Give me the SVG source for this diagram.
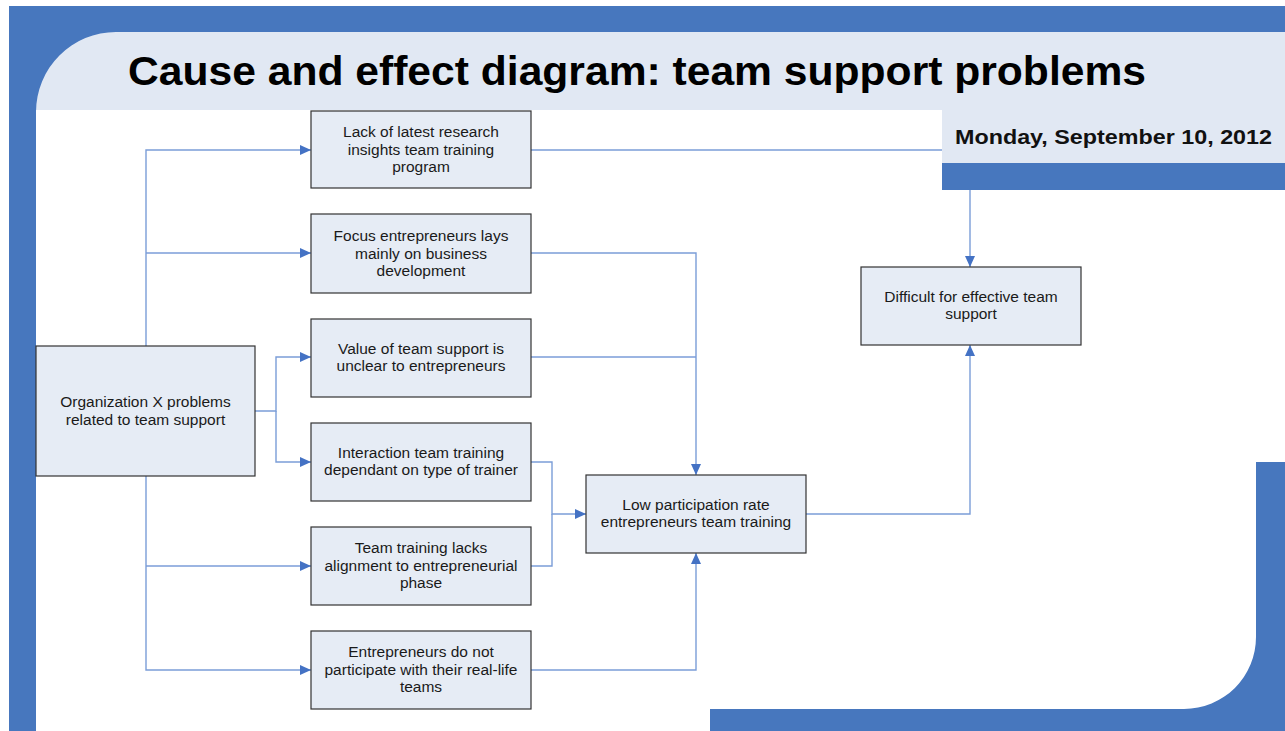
<svg xmlns="http://www.w3.org/2000/svg" width="1285" height="731" viewBox="0 0 1285 731">
  <style>
    .node rect { fill: #E6ECF5; stroke: #333333; stroke-width: 1.2; }
    .node text { font-family: "Liberation Sans", Arial, sans-serif; font-size: 15.5px; fill: #1a1a1a; text-anchor: middle; }
    .conn { fill: none; stroke: #7B9DD8; stroke-width: 1.4; }
    .title { font-family: "Liberation Sans", Arial, sans-serif; font-weight: bold; font-size: 40px; fill: #000; }
    .date { font-family: "Liberation Sans", Arial, sans-serif; font-weight: bold; font-size: 21px; fill: #111; }
  </style>
  <defs>
    <marker id="arr" markerUnits="userSpaceOnUse" markerWidth="12" markerHeight="10" refX="11" refY="5" orient="auto">
      <path d="M0,0 L11,5 L0,10 Z" fill="#4472C4"/>
    </marker>
  </defs>

  <g id="background">
    <rect x="0" y="0" width="1285" height="731" fill="#FFFFFF"/>
    <rect x="9" y="6" width="1276" height="725" fill="#4777BE"/>
    <path d="M36,110 L942,110 L942,190 L1285,190 L1285,462 L1256,462 L1256,637 A72,72 0 0 1 1184,709 L710,709 L710,731 L36,731 Z" fill="#FFFFFF"/>
    <path d="M36,110 L36,112 A80,80 0 0 1 116,32 L1285,32 L1285,110 Z" fill="#E1E8F3"/>
    <text class="title" x="128" y="85" textLength="1018" lengthAdjust="spacingAndGlyphs">Cause and effect diagram: team support problems</text>
  </g>

  <g id="connectors">
    <path class="conn" d="M146,346 L146,150 L311,150" marker-end="url(#arr)"/>
    <path class="conn" d="M146,253 L311,253" marker-end="url(#arr)"/>
    <path class="conn" d="M146,476 L146,670 L311,670" marker-end="url(#arr)"/>
    <path class="conn" d="M146,566 L311,566" marker-end="url(#arr)"/>
    <path class="conn" d="M255,411 L276,411 L276,357 L311,357" marker-end="url(#arr)"/>
    <path class="conn" d="M276,411 L276,462 L311,462" marker-end="url(#arr)"/>
    <path class="conn" d="M531,150 L970,150 L970,267" marker-end="url(#arr)"/>
    <path class="conn" d="M531,253 L696,253 L696,475" marker-end="url(#arr)"/>
    <path class="conn" d="M531,357 L696,357"/>
    <path class="conn" d="M531,462 L552,462 L552,514 L586,514" marker-end="url(#arr)"/>
    <path class="conn" d="M531,566 L552,566 L552,514"/>
    <path class="conn" d="M531,670 L696,670 L696,553" marker-end="url(#arr)"/>
    <path class="conn" d="M806,514 L970,514 L970,345" marker-end="url(#arr)"/>
  </g>

  <g id="date-panel">
    <rect x="942" y="110" width="343" height="53" fill="#E1E8F3"/>
    <rect x="942" y="163" width="343" height="27" fill="#4777BE"/>
    <text class="date" x="955" y="144" textLength="317" lengthAdjust="spacingAndGlyphs">Monday, September 10, 2012</text>
  </g>

  <g id="node-lack" class="node">
    <rect x="311" y="111" width="220" height="77"/>
    <text x="421" y="137">Lack of latest research</text>
    <text x="421" y="154.5">insights team training</text>
    <text x="421" y="172">program</text>
  </g>
  <g id="node-focus" class="node">
    <rect x="311" y="214" width="220" height="79"/>
    <text x="421" y="241">Focus entrepreneurs lays</text>
    <text x="421" y="258.5">mainly on business</text>
    <text x="421" y="276">development</text>
  </g>
  <g id="node-value" class="node">
    <rect x="311" y="319" width="220" height="78"/>
    <text x="421" y="354">Value of team support is</text>
    <text x="421" y="371">unclear to entrepreneurs</text>
  </g>
  <g id="node-interaction" class="node">
    <rect x="311" y="423" width="220" height="78"/>
    <text x="421" y="458">Interaction team training</text>
    <text x="421" y="475">dependant on type of trainer</text>
  </g>
  <g id="node-alignment" class="node">
    <rect x="311" y="527" width="220" height="78"/>
    <text x="421" y="553">Team training lacks</text>
    <text x="421" y="570.5">alignment to entrepreneurial</text>
    <text x="421" y="588">phase</text>
  </g>
  <g id="node-reallife" class="node">
    <rect x="311" y="631" width="220" height="78"/>
    <text x="421" y="657">Entrepreneurs do not</text>
    <text x="421" y="674.5">participate with their real-life</text>
    <text x="421" y="692">teams</text>
  </g>
  <g id="node-org" class="node">
    <rect x="36" y="346" width="219" height="130"/>
    <text x="145.5" y="407">Organization X problems</text>
    <text x="145.5" y="424.5">related to team support</text>
  </g>
  <g id="node-low" class="node">
    <rect x="586" y="475" width="220" height="78"/>
    <text x="696" y="510">Low participation rate</text>
    <text x="696" y="527">entrepreneurs team training</text>
  </g>
  <g id="node-difficult" class="node">
    <rect x="861" y="267" width="220" height="78"/>
    <text x="971" y="302">Difficult for effective team</text>
    <text x="971" y="319">support</text>
  </g>
</svg>
